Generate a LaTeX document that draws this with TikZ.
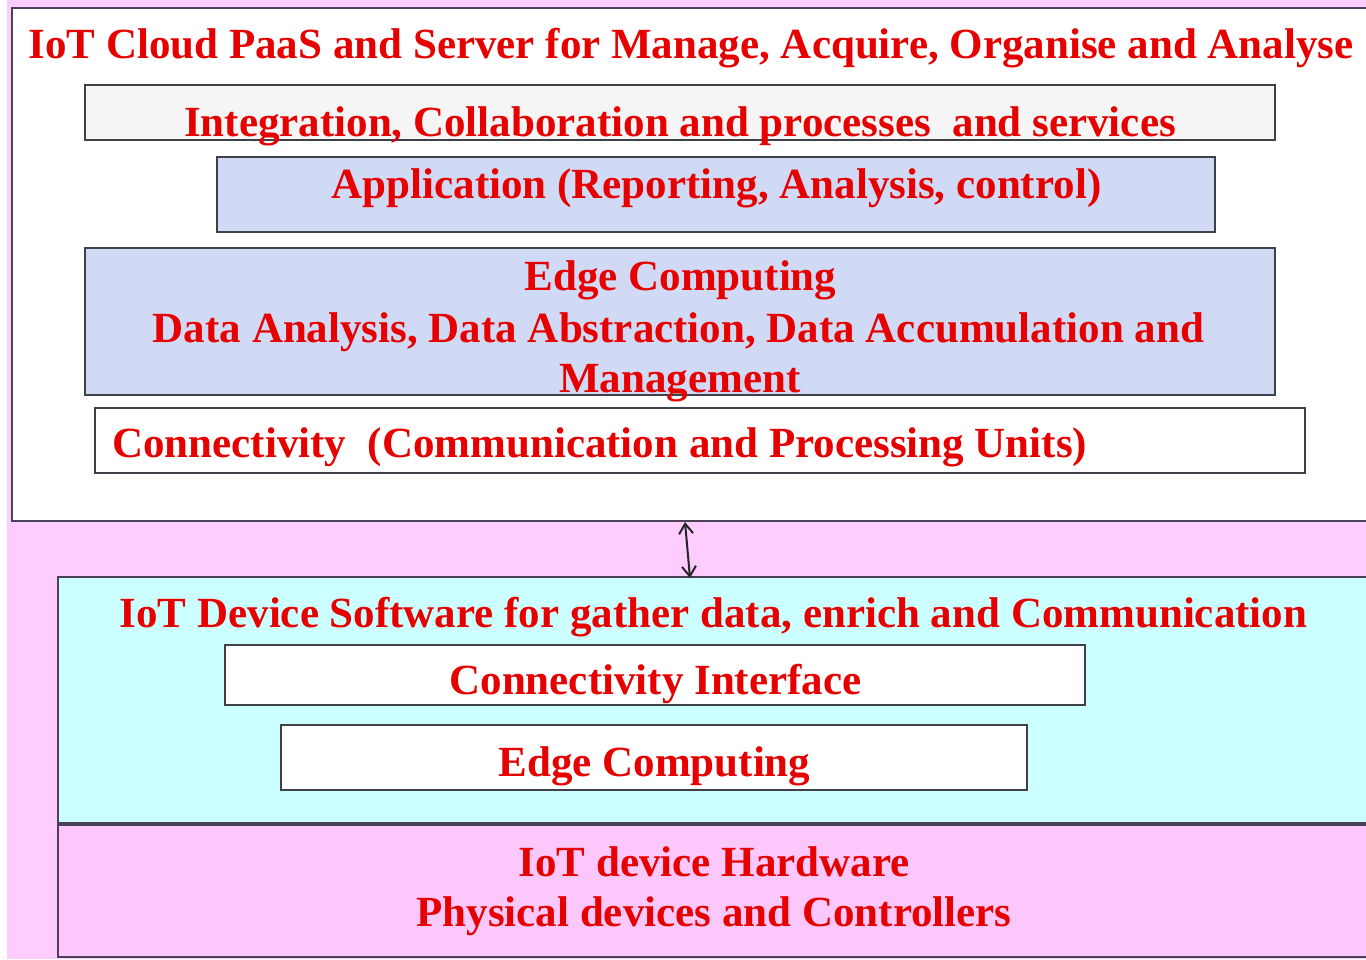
\documentclass[tikz,border=0pt]{standalone}
\usepackage{fontspec}
\setmainfont{Liberation Serif}
\usetikzlibrary{arrows.meta}
\definecolor{bgpink}{HTML}{FFCCFF}
\definecolor{hwpink}{HTML}{FCC8FC}
\definecolor{cyanfill}{HTML}{CCFFFF}
\definecolor{lightgray}{HTML}{F5F5F5}
\definecolor{paleblue}{HTML}{D0DAF5}
\definecolor{boxline}{HTML}{404048}
\definecolor{outline}{HTML}{4A4058}
\definecolor{labred}{HTML}{E60000}
\begin{document}
\begin{tikzpicture}[x=1pt,y=-1pt,
  box/.style={draw=boxline, line width=2pt, inner sep=0pt, minimum width=#1},
  big/.style={draw=outline, line width=2.6pt, inner sep=0pt},
  lbl/.style={text=labred, font=\fontsize{43}{50}\selectfont\bfseries, anchor=base, inner sep=0pt},
  link/.style={line width=2pt, black!85, {Straight Barb[length=10pt,width=14pt,line width=2pt]}-{Straight Barb[length=10pt,width=14pt,line width=2pt]}}]
\useasboundingbox (0,0) rectangle (1366,959);
\clip (0,0) rectangle (1366,959);
\fill[bgpink] (7,0) rectangle (1366,959);
\fill[white] (0,0) rectangle (7,959);

% cloud part
\node[big, fill=white, minimum width=1368pt, minimum height=513pt] (cloud) at (696,264.5) {};
\node[lbl] (cloudt) at (691,58) {IoT Cloud PaaS and Server for Manage, Acquire, Organise and Analyse};

\node[box=1190pt, fill=lightgray, minimum height=55pt] (integ) at (680,112.5) {};
\node[lbl] (integt) at (680,136) {Integration, Collaboration and processes\ \ and services};

\node[box=998pt, fill=paleblue, minimum height=75pt] (app) at (716,194.5) {};
\node[lbl] (appt) at (716.5,198) {Application (Reporting, Analysis, control)};

\node[box=1190pt, fill=paleblue, minimum height=147pt] (edge) at (680,321.5) {};
\node[lbl] (edget1) at (680.5,290) {Edge Computing};
\node[lbl] (edget2) at (678.5,342) {Data Analysis, Data Abstraction, Data Accumulation and};
\node[lbl] (edget3) at (680,392) {Management};

\node[box=1210pt, fill=white, minimum height=65pt] (conn) at (700,440.5) {};
\node[lbl, anchor=base west] (connt) at (112,457) {Connectivity\ \ (Communication and Processing Units)};

% device part
\node[big, fill=cyanfill, minimum width=1322pt, minimum height=246pt] (device) at (719,700) {};
\node[lbl] (devicet) at (713.5,627) {IoT Device Software for gather data, enrich and Communication};

\node[box=860pt, fill=white, minimum height=60pt] (ci) at (655,675) {};
\node[lbl] (cit) at (655.5,694) {Connectivity Interface};

\node[box=746pt, fill=white, minimum height=65pt] (ec) at (654,757.5) {};
\node[lbl] (ect) at (654.5,776) {Edge Computing};

\node[big, fill=hwpink, minimum width=1322pt, minimum height=132pt] (hw) at (719,891) {};
\node[lbl] (hwt1) at (714,876) {IoT device Hardware};
\node[lbl] (hwt2) at (714,926) {Physical devices and Controllers};

% link
\coordinate (up) at (685,522);
\coordinate (down) at (690,578);
\draw[link] (up) -- (down);
\end{tikzpicture}
\end{document}
